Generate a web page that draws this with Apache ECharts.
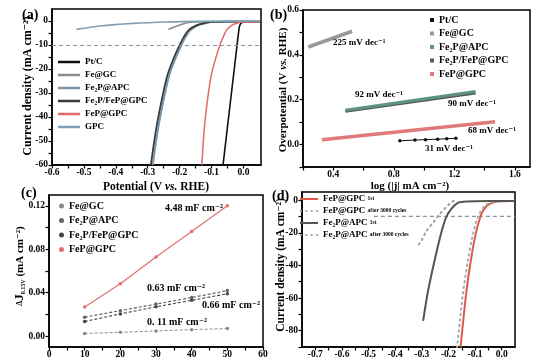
<!DOCTYPE html>
<html><head><meta charset="utf-8">
<script src="https://cdn.jsdelivr.net/npm/echarts@6/dist/echarts.min.js"></script>
<style>html,body{margin:0;padding:0;background:#fff}#c{width:547px;height:360px}</style>
</head><body><div id="c"></div><script>
// ---------- Panel (a): LSV curves [potential V, current mA cm-2]
const aPtC = [[0.05,-0.3],[0.02,-0.35],[0.0,-0.45],[-0.008,-1],[-0.013,-2.5],[-0.02,-10],[-0.03,-21.4],[-0.04,-32.7],[-0.05,-44],[-0.06,-55.5],[-0.064,-60]];
const aFeGC = [[-0.235,-3.5],[-0.21,-2.2],[-0.177,-0.7],[-0.15,-0.35],[-0.1,-0.25],[0.05,-0.2]];
const aFe2PAPC = [[0.05,-0.3],[-0.05,-0.3],[-0.1,-0.4],[-0.11,-0.7],[-0.14,-1.7],[-0.166,-3.8],[-0.18,-6.5],[-0.192,-9.4],[-0.214,-16],[-0.234,-23.4],[-0.257,-37.4],[-0.27,-47],[-0.281,-57],[-0.284,-60]];
const aFe2PFeP = [[0.05,-0.3],[-0.05,-0.3],[-0.1,-0.4],[-0.116,-0.7],[-0.146,-1.7],[-0.172,-3.8],[-0.186,-6.5],[-0.198,-9.4],[-0.22,-16],[-0.24,-23.4],[-0.263,-37.4],[-0.276,-47],[-0.287,-57],[-0.29,-60]];
const aFePGPC = [[0.05,-0.3],[0.0,-0.4],[-0.016,-0.7],[-0.036,-1.7],[-0.053,-3.8],[-0.063,-6.5],[-0.072,-9.4],[-0.088,-16],[-0.102,-23.4],[-0.117,-37.4],[-0.124,-47],[-0.129,-57],[-0.131,-60]];
const aGPC = [[-0.523,-3.5],[-0.45,-2.1],[-0.345,-1.0],[-0.24,-0.4],[-0.135,-0.15],[0.05,-0.05]];
const aRef = -10;
const aXLabels = [-0.6,-0.5,-0.4,-0.3,-0.2,-0.1,0.0];
const aXTicks = [-0.6,-0.55,-0.5,-0.45,-0.4,-0.35,-0.3,-0.25,-0.2,-0.15,-0.1,-0.05,0.0];
const aYLabels = [-60,-50,-40,-30,-20,-10,0];
const aYTicks = [-60,-55,-50,-45,-40,-35,-30,-25,-20,-15,-10,-5,0];

// ---------- Panel (b): Tafel [log|j|, overpotential V]
const bPtC = [[0.84,0.017],[0.94,0.020],[1.01,0.022],[1.09,0.024],[1.15,0.026],[1.21,0.028]];
const bFeGC = [[0.235,0.435],[0.525,0.505]];
const bFe2PAPC = [[0.48,0.153],[1.34,0.237]];
const bFe2PFeP = [[0.48,0.148],[1.34,0.230]];
const bFePGPC = [[0.325,0.021],[1.469,0.102]];
const bXLabels = [0.4,0.8,1.2,1.6];
const bXTicks = [0.2,0.4,0.6,0.8,1.0,1.2,1.4,1.6];
const bYLabels = [0.0,0.2,0.4,0.6];
const bYTicks = [-0.1,0.0,0.1,0.2,0.3,0.4,0.5,0.6];

// ---------- Panel (c): Cdl [scan rate, ΔJ]
const cScan = [10,20,30,40,50];
const cFeGC = [0.0025,0.0035,0.0048,0.006,0.007];
const cFe2PAPC = [0.0175,0.0235,0.0295,0.0355,0.042];
const cFe2PFeP = [0.0135,0.0205,0.027,0.033,0.039];
const cFePGPC = [0.0268,0.0483,0.0729,0.0963,0.120];
const cXLabels = [0,10,20,30,40,50,60];
const cXTicks = [0,5,10,15,20,25,30,35,40,45,50,55,60];
const cYLabels = [0.00,0.04,0.08,0.12];
const cYTicks = [0.00,0.02,0.04,0.06,0.08,0.10,0.12];

// ---------- Panel (d): stability LSV
const dFeP1 = [[0.05,-0.5],[0.038,-0.5],[0.0,-0.7],[-0.023,-1],[-0.04,-2],[-0.054,-3.3],[-0.068,-6],[-0.079,-9.7],[-0.097,-20.2],[-0.116,-37],[-0.134,-58],[-0.153,-87.5],[-0.155,-90]];
const dFePAfter = [[0.03,-0.5],[-0.03,-1],[-0.062,-3.3],[-0.088,-9.7],[-0.107,-20.2],[-0.127,-37],[-0.146,-58],[-0.166,-87.5],[-0.168,-90]];
const dFe2P1 = [[0.05,-0.5],[0.0,-0.5],[-0.1,-0.6],[-0.134,-0.8],[-0.15,-1.1],[-0.165,-1.7],[-0.19,-5.5],[-0.209,-10.7],[-0.227,-20],[-0.252,-37],[-0.277,-56],[-0.295,-74]];
const dFe2PAfter = [[-0.18,-0.5],[-0.19,-1.3],[-0.209,-4.4],[-0.233,-8.6],[-0.258,-13.9],[-0.283,-19],[-0.30,-24.4],[-0.32,-29]];
const dRef = [[-0.48,-10],[0.05,-10]];
const dXLabels = [-0.7,-0.6,-0.5,-0.4,-0.3,-0.2,-0.1,0.0];
const dXTicks = [-0.7,-0.65,-0.6,-0.55,-0.5,-0.45,-0.4,-0.35,-0.3,-0.25,-0.2,-0.15,-0.1,-0.05,0.0];
const dYLabels = [-80,-60,-40,-20,0];
const dYTicks = [-90,-80,-70,-60,-50,-40,-30,-20,-10,0];

const FF = '"Liberation Serif","DejaVu Serif",serif';
function fmt(v, d){ let s = Number(v).toFixed(d); if (parseFloat(s) === 0) s = (0).toFixed(d); return s; }
function axis(gi, min, max, labels, ticks, d, isX){
  return {
    type:'value', gridIndex:gi, min:min, max:max,
    axisLine:{show:true, onZero:false, lineStyle:{color:'#000', width:1.5}},
    axisTick:{show:true, inside:false, length:3.5, customValues:ticks, lineStyle:{color:'#000', width:1.2}},
    axisLabel:{customValues:labels, formatter:v=>fmt(v,d), fontFamily:FF, fontWeight:'bold', fontSize:9.5, color:'#000', margin:isX?3:4},
    splitLine:{show:false}
  };
}
function line(name, xi, data, color, width, extra){
  return Object.assign({type:'line', name:name, xAxisIndex:xi, yAxisIndex:xi, data:data, showSymbol:false, symbol:'none',
    smooth:0.3, lineStyle:{color:color, width:width}, itemStyle:{color:color}, z:3}, extra||{});
}
function zip(xs, ys){ return xs.map((x,i)=>[x, ys[i]]); }
function txt(x, y, text, size, o){
  o = o || {};
  return {type:'text', x:x, y:y, rotation:o.rot||0, z:100,
    style:{text:text, fontFamily:FF, fontWeight:'bold', fontSize:size, fill:'#000',
      align:o.align||'left', verticalAlign:'middle', rich:o.rich}};
}
const strip = n => n.split('|')[0];
const DOTS = 'path://M0,0h2v2h-2zM6,0h2v2h-2zM12,0h2v2h-2zM18,0h2v2h-2z';
const li = (name, icon) => ({name:name, icon:icon||'rect'});

const chart = echarts.init(document.getElementById('c'), null, {renderer:'canvas'});
const option = {
  animation:false,
  backgroundColor:'#fff',
  textStyle:{fontFamily:FF},
  grid:[
    {left:52, top:9, width:209, height:156, show:true, borderColor:'#000', borderWidth:1.5},
    {left:303, top:10, width:227, height:157, show:true, borderColor:'#000', borderWidth:1.5},
    {left:49, top:195, width:214, height:153, show:true, borderColor:'#000', borderWidth:1.5},
    {left:302, top:192, width:213, height:159, show:true, borderColor:'#000', borderWidth:1.5}
  ],
  xAxis:[
    axis(0,-0.6,0.055,aXLabels,aXTicks,1,true),
    axis(1,0.2,1.7,bXLabels,bXTicks,1,true),
    axis(2,0,60,cXLabels,cXTicks,0,true),
    axis(3,-0.75,0.05,dXLabels,dXTicks,1,true)
  ],
  yAxis:[
    axis(0,-60,5,aYLabels,aYTicks,0,false),
    axis(1,-0.1,0.6,bYLabels,bYTicks,1,false),
    axis(2,-0.01,0.13,cYLabels,cYTicks,2,false),
    axis(3,-90,5,dYLabels,dYTicks,0,false)
  ],
  legend:[
    {data:['Pt/C|a','Fe@GC|a','Fe₂P@APC|a','Fe₂P/FeP@GPC|a','FeP@GPC|a','GPC|a'].map(n=>li(n)), orient:'vertical', left:58, top:57, padding:0,
     itemWidth:22, itemHeight:2.5, itemGap:3, formatter:strip,
     textStyle:{fontFamily:FF, fontWeight:'bold', fontSize:9, lineHeight:10, color:'#000'}},
    {data:['Pt/C|b','Fe@GC|b','Fe₂P@APC|b','Fe₂P/FeP@GPC|b','FeP@GPC|b'].map(n=>li(n)), orient:'vertical', left:430, top:15, padding:0,
     itemWidth:4, itemHeight:4, itemGap:3.5, formatter:strip,
     textStyle:{fontFamily:FF, fontWeight:'bold', fontSize:10, lineHeight:10, color:'#000'}},
    {data:['Fe@GC|c','Fe₂P@APC|c','Fe₂P/FeP@GPC|c','FeP@GPC|c'].map(n=>li(n,'circle')), orient:'vertical', left:59, top:201, padding:0,
     itemWidth:5, itemHeight:5, itemGap:4.5, formatter:strip,
     textStyle:{fontFamily:FF, fontWeight:'bold', fontSize:10, lineHeight:10, color:'#000'}},
    {data:[li('FeP@GPC|1st|d'), li('FeP@GPC|after 3000 cycles|d',DOTS), li('Fe₂P@APC|1st|d'), li('Fe₂P@APC|after 3000 cycles|d',DOTS)],
     orient:'vertical', left:300, top:194, padding:0,
     itemWidth:18, itemHeight:2, itemGap:2,
     formatter:n=>{const p=n.split('|'); return '{b|'+p[0]+'} {s|'+p[1]+'}';},
     textStyle:{fontFamily:FF, fontWeight:'bold', fontSize:9, lineHeight:10, color:'#000',
       rich:{b:{fontFamily:FF, fontWeight:'bold', fontSize:9, color:'#000'}, s:{fontFamily:FF, fontWeight:'bold', fontSize:5.5, color:'#000'}}}}
  ],
  series:[
    // (a)
    line('Pt/C|a',0,aPtC,'#111',1.6,{smooth:0.15}),
    line('Fe@GC|a',0,aFeGC,'#8c8c8c',1.6),
    line('Fe₂P@APC|a',0,aFe2PAPC,'#7795a8',1.8),
    line('Fe₂P/FeP@GPC|a',0,aFe2PFeP,'#3a3a3a',1.8),
    line('FeP@GPC|a',0,aFePGPC,'#e06a6a',1.5),
    line('GPC|a',0,aGPC,'#7f9fb5',1.6,{markLine:{silent:true, symbol:'none', label:{show:false},
      lineStyle:{color:'#7f94a6', type:[4,3], width:1.2}, data:[{yAxis:aRef}]}}),
    // (b)
    line('Fe@GC|b',1,bFeGC,'#9a9a9a',3.8,{smooth:false}),
    line('Fe₂P/FeP@GPC|b',1,bFe2PFeP,'#565a58',3,{smooth:false}),
    line('Fe₂P@APC|b',1,bFe2PAPC,'#5e9282',3,{smooth:false}),
    line('FeP@GPC|b',1,bFePGPC,'#e07a7a',3.5,{smooth:false}),
    line('Pt/C|b',1,bPtC,'#111',1,{smooth:false, showSymbol:true, symbol:'circle', symbolSize:3.5}),
    // (c)
    line('Fe@GC|c',2,zip(cScan,cFeGC),'#8a8a8a',1,{smooth:false, showSymbol:true, symbol:'circle', symbolSize:3.5, lineStyle:{color:'#8a8a8a', width:1, type:[3,2]}}),
    line('Fe₂P@APC|c',2,zip(cScan,cFe2PAPC),'#666',1,{smooth:false, showSymbol:true, symbol:'circle', symbolSize:3.5, lineStyle:{color:'#555', width:1.1, type:[3,2]}}),
    line('Fe₂P/FeP@GPC|c',2,zip(cScan,cFe2PFeP),'#444',1,{smooth:false, showSymbol:true, symbol:'circle', symbolSize:3.5, lineStyle:{color:'#444', width:1.1, type:[3,2]}}),
    line('FeP@GPC|c',2,zip(cScan,cFePGPC),'#e07070',1.2,{smooth:false, showSymbol:true, symbol:'circle', symbolSize:3.5}),
    // (d)
    line('ref|d',3,dRef,'#7f94a6',1.2,{smooth:false, lineStyle:{color:'#7f94a6', width:1.2, type:[4,3]}}),
    line('FeP@GPC|1st|d',3,dFeP1,'#e0584a',2),
    line('FeP@GPC|after 3000 cycles|d',3,dFePAfter,'#9db0a8',2,{lineStyle:{color:'#9db0a8', width:2, type:[1.5,4], cap:'round'}}),
    line('Fe₂P@APC|1st|d',3,dFe2P1,'#555',2),
    line('Fe₂P@APC|after 3000 cycles|d',3,dFe2PAfter,'#a0a0a0',2,{lineStyle:{color:'#a0a0a0', width:2, type:[1.5,4], cap:'round'}})
  ],
  graphic:[
    txt(22,15,'(a)',14), txt(270,15,'(b)',14), txt(21,193,'(c)',14), txt(272,196,'(d)',14),
    txt(28,86,'Current density (mA cm⁻²)',12,{rot:Math.PI/2, align:'center'}),
    txt(156,187,'{n|Potential (V }{i|vs.}{n| RHE)}',11.5,{align:'center', rich:{
      n:{fontFamily:FF, fontWeight:'bold', fontSize:11.5, fill:'#000'}, i:{fontFamily:FF, fontWeight:'bold', fontStyle:'italic', fontSize:11.5, fill:'#000'}}}),
    txt(283,90,'{n|Overpotential (V }{i|vs.}{n| RHE)}',11,{rot:Math.PI/2, align:'center', rich:{
      n:{fontFamily:FF, fontWeight:'bold', fontSize:11, fill:'#000'}, i:{fontFamily:FF, fontWeight:'bold', fontStyle:'italic', fontSize:11, fill:'#000'}}}),
    txt(410,186,'log (|j| mA cm⁻²)',11,{align:'center'}),
    txt(20,266,'{d|Δ}{j|J}{s|0.15V}{n| (mA cm⁻²)}',11,{rot:Math.PI/2, align:'center', rich:{
      d:{fontFamily:FF, fontWeight:'bold', fontSize:8, fill:'#000'}, j:{fontFamily:FF, fontWeight:'bold', fontSize:13, fill:'#000'},
      s:{fontFamily:FF, fontWeight:'bold', fontSize:6, fill:'#000', padding:[6,0,0,0]}, n:{fontFamily:FF, fontWeight:'bold', fontSize:11, fill:'#000'}}}),
    txt(281,265,'Current density (mA cm⁻²)',11.5,{rot:Math.PI/2, align:'center'}),
    txt(333,43,'225 mV dec⁻¹',9), txt(355,95,'92 mV dec⁻¹',9), txt(448,104,'90 mV dec⁻¹',9),
    txt(468,131,'68 mV dec⁻¹',9), txt(425,149,'31 mV dec⁻¹',9),
    txt(165,208,'4.48 mF cm⁻²',10), txt(147,288,'0.63 mF cm⁻²',10), txt(202,305,'0.66 mF cm⁻²',10), txt(147,322,'0. 11 mF cm⁻²',10)
  ]
};
chart.setOption(option);
</script></body></html>
